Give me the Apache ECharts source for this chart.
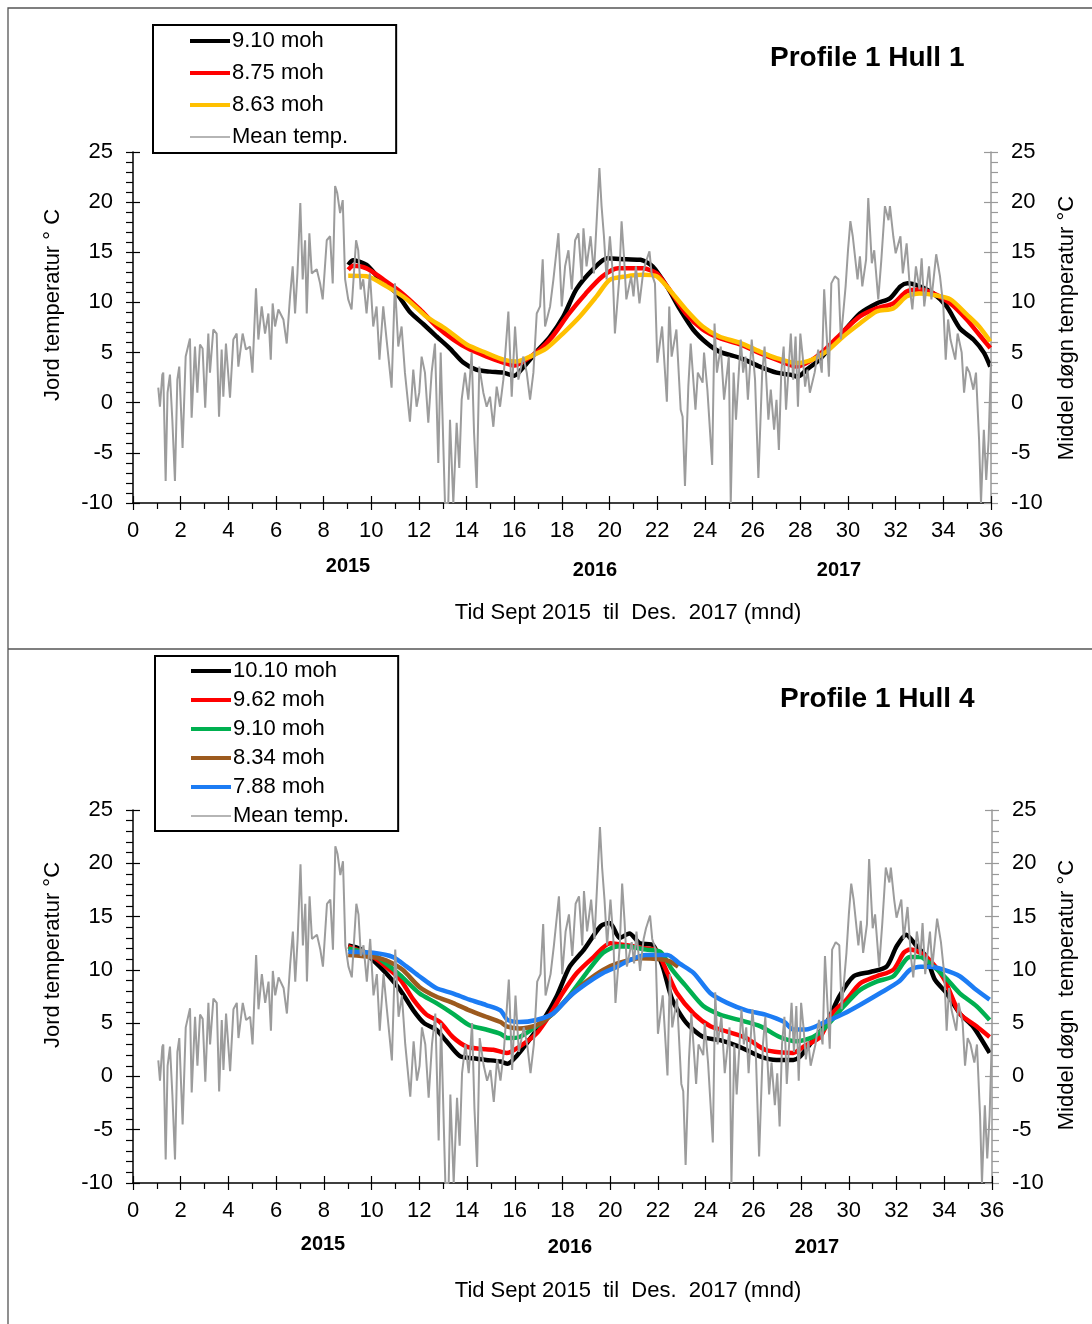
<!DOCTYPE html>
<html>
<head>
<meta charset="utf-8">
<script src="https://cdn.jsdelivr.net/npm/echarts@6/dist/echarts.min.js"></script>
<style>
    body { margin: 0; background: #fff; }
    #hull1 { position: absolute; left: 0; top: 0; width: 1092px; height: 649px; }
    #hull4 { position: absolute; left: 0; top: 649px; width: 1092px; height: 675px; }
</style>
</head>
<body>
<div id="hull1"></div>
<div id="hull4"></div>
<script>
    // Middel døgn temperatur (same in both charts), [month, degC]
    var meanTemp = [
        [1.06,1.5],[1.13,-0.4],[1.23,2.8],[1.27,3.0],[1.37,-7.8],[1.45,1.0],[1.55,2.8],[1.65,-1.7],[1.76,-7.8],[1.86,2.3],
        [1.94,3.6],[2.08,-4.5],[2.21,4.6],[2.39,6.4],[2.46,-1.5],[2.60,5.6],[2.70,1.0],[2.81,5.8],[2.92,5.4],[3.03,-0.5],
        [3.16,6.9],[3.23,3.0],[3.37,7.3],[3.51,6.9],[3.61,-1.4],[3.72,5.3],[3.79,0.6],[3.90,5.9],[4.07,0.5],[4.21,6.3],
        [4.35,6.9],[4.42,3.6],[4.60,6.9],[4.74,5.3],[4.91,5.6],[5.01,3.0],[5.16,11.4],[5.26,6.3],[5.40,9.6],[5.54,6.9],
        [5.68,8.9],[5.78,4.3],[5.86,9.9],[5.96,7.6],[6.10,9.3],[6.31,8.3],[6.45,5.9],[6.59,10.6],[6.70,13.6],[6.80,8.9],
        [6.90,12.9],[7.02,19.9],[7.12,12.3],[7.22,16.2],[7.29,8.9],[7.40,16.9],[7.50,12.9],[7.71,13.3],[7.85,11.9],[7.96,10.3],
        [8.13,16.2],[8.27,16.6],[8.38,11.9],[8.48,21.6],[8.57,20.9],[8.69,18.9],[8.80,20.2],[8.90,12.3],[9.03,10.3],[9.17,9.3],
        [9.36,16.2],[9.45,15.2],[9.55,11.3],[9.66,12.3],[9.80,8.9],[9.94,12.9],[10.08,7.6],[10.22,9.6],[10.34,4.3],[10.50,9.6],
        [10.64,6.3],[10.85,1.5],[10.99,11.9],[11.13,5.6],[11.27,7.6],[11.41,3.0],[11.62,-1.9],[11.76,3.3],[11.90,-0.4],[12.01,1.0],
        [12.11,4.6],[12.25,3.0],[12.39,-2.0],[12.53,3.0],[12.67,5.9],[12.81,-6.0],[12.91,5.0],[13.09,-10],[13.23,-10],[13.30,-1.7],
        [13.44,-10],[13.58,-2.0],[13.69,-6.5],[13.79,0.3],[13.93,3.0],[14.07,0.3],[14.21,5.0],[14.31,-3.0],[14.42,-8.5],[14.53,3.6],
        [14.70,1.0],[14.84,-0.4],[14.98,0.6],[15.12,-2.4],[15.26,1.6],[15.40,-0.4],[15.54,2.3],[15.75,9.1],[15.89,0.6],[16.03,7.6],
        [16.17,2.3],[16.38,4.6],[16.52,3.0],[16.66,0.3],[16.80,3.0],[16.94,8.9],[17.08,9.6],[17.19,14.3],[17.29,7.6],[17.50,9.6],
        [17.64,12.3],[17.85,16.9],[17.99,9.6],[18.13,13.6],[18.27,15.2],[18.41,11.3],[18.55,16.2],[18.69,16.9],[18.83,12.3],[18.90,17.4],
        [19.03,13.6],[19.20,16.6],[19.34,12.9],[19.57,23.4],[19.66,19.6],[19.76,16.6],[19.87,12.3],[20.01,16.6],[20.13,12.9],[20.22,6.9],
        [20.4,12.3],[20.5,18.1],[20.6,14.6],[20.7,10.3],[20.9,12.6],[21.0,10.6],[21.1,13.6],[21.25,9.9],[21.4,12.9],[21.5,13.9],
        [21.67,15.1],[21.76,12.9],[21.9,11.9],[22.0,4.0],[22.2,7.6],[22.4,0.1],[22.5,9.6],[22.6,4.6],[22.8,7.3],[22.98,-0.7],
        [23.06,-1.4],[23.16,-8.3],[23.3,1.6],[23.4,5.9],[23.6,-0.7],[23.7,3.0],[23.9,2.0],[23.96,5.0],[24.1,1.3],[24.3,-6.2],
        [24.4,7.9],[24.5,3.0],[24.66,5.6],[24.8,0.3],[25.0,4.6],[25.08,-10],[25.2,3.0],[25.3,-1.7],[25.5,6.3],[25.6,3.0],
        [25.7,4.6],[25.8,0.3],[25.96,6.3],[26.1,2.3],[26.24,-7.5],[26.4,3.0],[26.5,5.6],[26.66,-1.7],[26.76,1.3],[26.9,-2.7],
        [27.0,0.3],[27.1,-4.7],[27.2,3.0],[27.3,5.6],[27.4,-0.7],[27.6,6.9],[27.7,2.3],[27.8,6.6],[27.9,-0.4],[28.0,6.9],
        [28.1,4.6],[28.2,1.6],[28.3,3.3],[28.4,1.0],[28.6,3.0],[28.75,5.3],[28.9,3.0],[29.0,11.3],[29.2,2.6],[29.3,11.9],
        [29.45,12.6],[29.6,12.3],[29.7,6.3],[29.9,11.6],[30.0,15.2],[30.1,18.1],[30.2,16.6],[30.4,12.3],[30.5,14.6],[30.6,11.6],
        [30.76,14.3],[30.85,20.4],[31.0,13.9],[31.1,15.2],[31.27,10.3],[31.4,14.3],[31.55,19.6],[31.7,18.2],[31.76,19.6],[31.9,16.6],
        [32.0,14.9],[32.2,16.6],[32.3,12.9],[32.46,15.9],[32.6,11.3],[32.7,9.3],[32.85,13.6],[33.0,11.3],[33.09,14.4],[33.2,9.6],
        [33.4,13.6],[33.5,10.3],[33.7,14.8],[33.86,12.6],[34.0,9.6],[34.1,4.3],[34.2,8.3],[34.3,6.3],[34.5,4.3],[34.6,6.9],
        [34.77,5.0],[34.87,1.0],[34.98,3.6],[35.1,3.0],[35.26,1.3],[35.37,3.0],[35.5,-3.7],[35.58,-10],[35.7,-2.7],[35.8,-7.7],
        [35.9,-3.7],[36.0,4.0]
    ];

    // Profile 1 Hull 1, jord temperatur
    var h1_910 = [[9.03,13.75],[9.24,14.2],[9.8,13.75],[10.36,12.3],[11.06,10.9],[11.6,9.1],[12.2,7.8],[12.74,6.6],[13.3,5.4],[13.86,4.0],
        [14.4,3.3],[14.98,3.1],[15.54,3.0],[16.0,2.7],[16.4,3.6],[16.9,5.0],[17.5,6.6],[18.06,8.6],[18.6,11.3],[19.3,13.3],
        [19.9,14.4],[20.7,14.3],[21.3,14.25],[21.8,13.6],[22.4,11.6],[22.95,9.3],[23.5,7.3],[24.07,5.95],[24.6,5.1],[25.5,4.45],
        [26.3,3.6],[27.0,3.0],[27.57,2.8],[27.9,2.6],[28.27,3.3],[28.8,4.3],[29.4,5.95],[30.0,7.6],[30.5,8.9],[31.2,9.9],
        [31.76,10.4],[32.2,11.6],[32.5,11.9],[33.0,11.6],[33.58,10.9],[34.14,9.6],[34.7,7.4],[35.26,6.3],[35.7,5.0],[35.97,3.6]];
    var h1_875 = [[9.03,13.25],[9.24,13.65],[9.8,13.4],[10.5,12.3],[11.2,11.1],[12.04,9.3],[12.74,7.6],[13.44,6.3],[14.14,5.3],[14.84,4.6],
        [15.54,4.0],[16.0,3.7],[16.5,4.3],[17.08,5.3],[17.6,6.6],[18.3,8.9],[19.0,10.9],[19.7,12.6],[20.36,13.4],[21.4,13.4],
        [21.97,12.9],[22.5,11.3],[23.2,8.9],[23.9,7.3],[24.6,6.45],[25.5,5.8],[26.3,4.95],[27.0,4.3],[27.85,3.6],[28.5,4.3],
        [29.1,5.45],[29.8,7.1],[30.5,8.6],[31.2,9.4],[31.9,9.9],[32.46,11.1],[33.0,11.3],[33.58,10.9],[34.3,9.9],[34.98,8.3],
        [35.5,6.8],[35.97,5.45]];
    var h1_863 = [[9.03,12.65],[9.8,12.6],[10.64,11.6],[11.5,10.3],[12.3,8.6],[13.16,7.3],[14.0,5.8],[14.84,4.95],[15.54,4.3],[16.1,4.1],
        [16.66,4.6],[17.36,5.45],[18.06,6.95],[18.75,8.6],[19.45,10.6],[20.0,12.25],[20.7,12.6],[21.4,12.75],[21.97,12.6],[22.5,11.3],
        [23.2,9.3],[23.9,7.6],[24.6,6.6],[25.5,5.95],[26.3,5.1],[27.0,4.45],[27.85,3.95],[28.5,4.3],[29.1,5.1],[29.8,6.6],
        [30.5,7.9],[31.2,9.1],[31.9,9.4],[32.46,10.6],[33.0,10.9],[33.58,10.75],[34.3,10.3],[34.98,8.8],[35.5,7.6],[35.97,6.1]];

    // Profile 1 Hull 4, jord temperatur
    var h4_1010 = [[9.02,12.3],[9.5,12.0],[10.07,10.9],[10.6,9.7],[11.2,8.1],[11.75,6.2],[12.2,5.0],[12.7,4.4],[13.1,3.4],[13.7,1.9],
        [14.26,1.7],[14.8,1.55],[15.4,1.4],[15.7,1.2],[16.07,1.9],[16.6,3.4],[17.2,5.3],[17.75,7.5],[18.3,10.3],[18.9,11.9],
        [19.6,14.1],[19.98,14.4],[20.4,13.0],[20.8,13.4],[21.24,12.5],[21.8,12.3],[22.2,10.3],[22.6,7.2],[23.2,5.0],[23.9,3.7],
        [24.6,3.4],[25.4,2.8],[26.3,1.86],[26.97,1.55],[27.67,1.55],[27.95,1.86],[28.5,3.4],[29.06,5.0],[29.6,7.5],[30.2,9.4],
        [30.9,9.8],[31.58,10.3],[32.0,12.2],[32.4,13.3],[32.85,12.2],[33.25,11.2],[33.6,9.1],[34.1,7.8],[34.65,5.9],[35.2,4.7],
        [35.9,2.2]];
    var h4_962 = [[9.02,12.2],[10.07,11.2],[10.6,10.3],[11.2,9.1],[11.75,7.2],[12.3,5.8],[12.86,5.1],[13.4,3.7],[13.98,2.8],[14.5,2.6],
        [15.1,2.5],[15.66,2.2],[16.2,2.8],[16.9,4.0],[17.5,5.9],[18.0,7.8],[18.6,9.7],[19.3,11.2],[20.0,12.5],[20.7,12.3],
        [21.5,12.0],[21.9,11.9],[22.4,9.7],[22.8,7.8],[23.5,5.9],[24.2,4.7],[24.9,4.2],[25.7,3.6],[26.5,2.5],[27.67,2.2],
        [28.1,2.8],[28.8,3.7],[29.3,5.9],[29.9,7.2],[30.46,8.7],[31.16,9.4],[31.86,10.0],[32.3,11.6],[32.56,11.9],[33.0,11.6],
        [33.4,10.9],[34.0,9.1],[34.65,5.9],[35.35,4.7],[35.9,3.7]];
    var h4_910 = [[9.02,12.0],[10.07,11.4],[10.6,10.6],[11.2,9.5],[12.0,7.8],[12.7,6.9],[13.4,5.9],[14.1,4.8],[14.8,4.4],[15.4,4.0],
        [15.7,3.6],[16.2,3.7],[16.9,4.7],[17.6,5.9],[18.3,7.6],[19.0,9.7],[19.7,11.6],[20.3,12.2],[20.7,12.2],[21.5,11.9],
        [22.1,11.7],[22.6,10.0],[23.2,8.4],[23.9,6.6],[24.6,5.8],[25.4,5.3],[26.3,4.7],[27.1,3.7],[27.8,3.3],[28.5,3.7],
        [29.06,4.7],[29.8,6.6],[30.46,8.1],[31.16,8.9],[31.86,9.4],[32.56,11.2],[33.0,11.2],[33.4,10.6],[34.0,9.4],[34.65,7.8],
        [35.35,6.6],[35.9,5.3]];
    var h4_834 = [[9.02,11.4],[10.07,11.2],[10.6,10.9],[11.3,10.0],[12.0,8.4],[12.7,7.5],[13.4,6.9],[14.1,6.2],[14.8,5.6],[15.4,5.1],
        [15.66,4.7],[16.2,4.5],[16.9,4.8],[17.6,5.9],[18.3,7.5],[19.0,8.9],[19.7,10.0],[20.3,10.6],[21.24,11.1],[22.1,11.0],
        [22.5,10.8],[22.85,10.3]];
    var h4_788 = [[9.02,11.7],[10.07,11.6],[10.9,11.2],[11.47,10.3],[12.0,9.4],[12.7,8.3],[13.4,7.8],[14.1,7.2],[14.8,6.7],[15.4,6.2],
        [15.7,5.3],[16.2,5.1],[16.9,5.3],[17.6,5.9],[18.3,7.5],[19.0,8.7],[19.7,9.7],[20.3,10.3],[20.7,10.8],[21.5,11.4],
        [22.4,11.4],[22.9,10.6],[23.5,9.7],[24.2,7.8],[24.9,6.9],[25.7,6.2],[26.5,5.8],[27.3,5.1],[27.67,4.4],[28.2,4.4],
        [28.9,5.0],[29.8,5.9],[30.46,6.7],[31.3,7.8],[32.1,8.9],[32.56,10.0],[33.0,10.3],[33.4,10.3],[34.0,10.0],[34.65,9.4],
        [35.35,8.1],[35.9,7.2]];

    var yearLabels = ['2015', '2016', '2017'];
    var xName = 'Tid Sept 2015  til  Des.  2017 (mnd)';
    var FONT = '"Liberation Sans", Arial, sans-serif';

    // legend icons: plain line strokes, no marker
    var ICON_THICK = 'path://M0,0H40V4H0Z',
        ICON_THIN = 'path://M0,0H40V1.6H0Z';

    function render(dom, cfg) {
        var chart = echarts.init(dom, null, { renderer: 'canvas' }),

            xBase = function (inside) {
                return {
                    type: 'value', gridIndex: 0, position: 'bottom', min: 0, max: 36, interval: 2,
                    axisLine: { show: !inside, onZero: false, lineStyle: { color: '#000', width: 1.5 } },
                    axisTick: { show: true, inside: inside, length: 7, lineStyle: { color: '#000', width: 1.2 } },
                    minorTick: { show: !inside, splitNumber: 2, length: 6, lineStyle: { color: '#000', width: 1.2 } },
                    axisLabel: { show: !inside, fontSize: 22, color: '#000', margin: 17, fontFamily: FONT },
                    splitLine: { show: false }, minorSplitLine: { show: false }
                };
            },
            yBase = function (pos, inside, col) {
                return {
                    type: 'value', gridIndex: 0, position: pos, min: -10, max: 25, interval: 5,
                    axisLine: { show: !inside, onZero: false, lineStyle: { color: col, width: 1.5 } },
                    axisTick: { show: true, inside: inside, length: 7, lineStyle: { color: col, width: 1.2 } },
                    minorTick: { show: !inside, splitNumber: 5, length: 7, lineStyle: { color: col, width: 1.2 } },
                    axisLabel: { show: !inside, fontSize: 22, color: '#000', margin: 20, fontFamily: FONT },
                    splitLine: { show: false }, minorSplitLine: { show: false }
                };
            };

        var series = cfg.lines.map(function (l) {
            return {
                name: l.name, type: 'line', xAxisIndex: 0, yAxisIndex: 0, data: l.data,
                showSymbol: false, symbol: 'none', smooth: 0.25,
                lineStyle: { color: l.color, width: 4.5 }, itemStyle: { color: l.color }, z: 3
            };
        });
        series.push({
            name: 'Mean temp.', type: 'line', xAxisIndex: 0, yAxisIndex: 1, data: meanTemp,
            showSymbol: false, symbol: 'none',
            lineStyle: { color: '#9C9C9C', width: 2 }, itemStyle: { color: '#9C9C9C' }, z: 4
        });

        var legendData = cfg.lines.map(function (l) {
            return { name: l.name, icon: ICON_THICK };
        });
        legendData.push({ name: 'Mean temp.', icon: ICON_THIN });

        var graphic = [
            // panel frame
            { type: 'rect', shape: cfg.frame, style: { fill: null, stroke: '#555', lineWidth: 1.3 }, silent: true },
            {
                type: 'text', x: 53, y: cfg.leftName.y, rotation: Math.PI / 2,
                style: { text: cfg.leftName.text, fontSize: 22, fontFamily: FONT, fill: '#000', align: 'center', verticalAlign: 'middle' }
            },
            {
                type: 'text', x: 1067, y: cfg.rightName.y, rotation: Math.PI / 2,
                style: { text: cfg.rightName.text, fontSize: 22, fontFamily: FONT, fill: '#000', align: 'center', verticalAlign: 'middle' }
            },
            {
                type: 'text', x: 628, y: cfg.xNameY,
                style: { text: xName, fontSize: 22, fontFamily: FONT, fill: '#000', align: 'center', verticalAlign: 'middle' }
            }
        ];
        yearLabels.forEach(function (t, i) {
            graphic.push({
                type: 'text', x: cfg.years[i][0], y: cfg.years[i][1],
                style: { text: t, fontSize: 20, fontWeight: 'bold', fontFamily: FONT, fill: '#000', align: 'center', verticalAlign: 'middle' }
            });
        });

        chart.setOption({
            animation: false,
            backgroundColor: '#fff',
            title: {
                text: cfg.title, left: cfg.titlePos[0], top: cfg.titlePos[1],
                textStyle: { fontSize: 28, fontWeight: 'bold', color: '#000', fontFamily: FONT }
            },
            legend: {
                orient: 'vertical', left: cfg.legend.left, top: cfg.legend.top,
                padding: cfg.legend.padding, itemGap: cfg.legend.gap,
                itemWidth: 40, itemHeight: 14, symbolKeepAspect: true,
                borderColor: '#000', borderWidth: 2, backgroundColor: '#fff',
                selectedMode: false,
                textStyle: { fontSize: 22, color: '#000', fontFamily: FONT, padding: [0, 0, 0, -3] },
                data: legendData
            },
            grid: { left: 133, right: cfg.grid.right, top: cfg.grid.top, height: cfg.grid.height, containLabel: false },
            xAxis: [xBase(false), xBase(true)],
            yAxis: [yBase('left', false, '#000'), yBase('right', false, '#999'),
                    yBase('left', true, '#000'), yBase('right', true, '#999')],
            graphic: graphic,
            series: series
        });
        return chart;
    }

    render(document.getElementById('hull1'), {
        title: 'Profile 1 Hull 1',
        titlePos: [765, 39],
        grid: { top: 152, height: 351, right: 101 },
        frame: { x: 8, y: 8, width: 1100, height: 641 },
        legend: { left: 153, top: 25, padding: [5, 48, 5, 37], gap: 10 },
        lines: [
            { name: '9.10 moh', data: h1_910, color: '#000000' },
            { name: '8.75 moh', data: h1_875, color: '#FF0000' },
            { name: '8.63 moh', data: h1_863, color: '#FFC000' }
        ],
        leftName: { text: 'Jord temperatur ° C', y: 305 },
        rightName: { text: 'Middel døgn temperatur °C', y: 328 },
        years: [[348, 566], [595, 570], [839, 570]],
        xNameY: 613
    });

    render(document.getElementById('hull4'), {
        title: 'Profile 1 Hull 4',
        titlePos: [775, 31],
        grid: { top: 161, height: 373, right: 100 },
        frame: { x: 8, y: 0, width: 1100, height: 700 },
        legend: { left: 155, top: 7, padding: [4, 49, 4, 36], gap: 7 },
        lines: [
            { name: '10.10 moh', data: h4_1010, color: '#000000' },
            { name: '9.62 moh', data: h4_962, color: '#FF0000' },
            { name: '9.10 moh', data: h4_910, color: '#00B050' },
            { name: '8.34 moh', data: h4_834, color: '#9C5A1E' },
            { name: '7.88 moh', data: h4_788, color: '#1C7CF4' }
        ],
        leftName: { text: 'Jord temperatur °C', y: 306 },
        rightName: { text: 'Middel døgn  temperatur °C', y: 346 },
        years: [[323, 595], [570, 598], [817, 598]],
        xNameY: 642
    });
</script>
</body>
</html>
